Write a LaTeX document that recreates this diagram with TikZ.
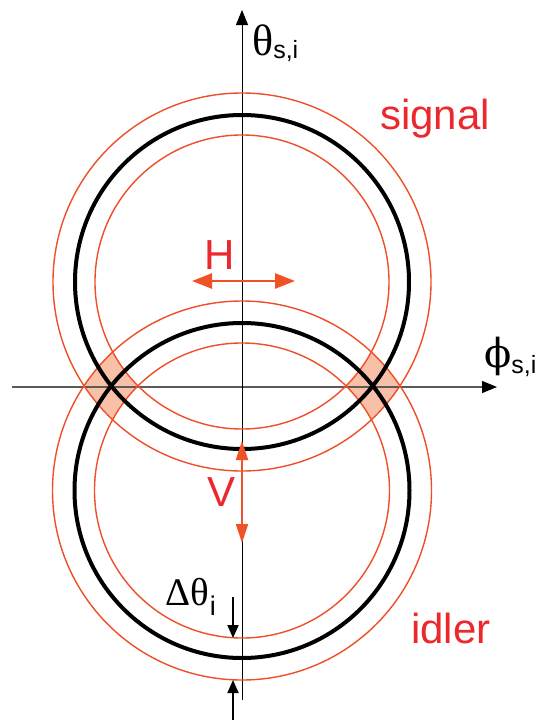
\documentclass[tikz,border=0pt]{standalone}
\usepackage{fontspec}
\setmainfont{Liberation Sans}
\newfontfamily\grk{Liberation Serif}
\newfontfamily\grkb{DejaVu Serif}
\usetikzlibrary{arrows.meta}
\definecolor{txtred}{RGB}{234,40,45}
\definecolor{ringred}{RGB}{238,78,40}
\definecolor{arrred}{RGB}{238,82,38}
\definecolor{patchfill}{RGB}{249,192,168}
\definecolor{axgray}{RGB}{90,90,90}
\tikzset{
  ring/.style={ringred, line width=1.4pt},
  beam/.style={black, line width=4pt},
  lbl/.style={inner sep=0pt, anchor=base west},
  redlbl/.style={inner sep=0pt, text=txtred, font=\fontsize{42}{42}\selectfont},
  pol/.style={arrred, line width=2.6pt},
  dth/.style={black, line width=1.8pt, -{Triangle[length=13pt,width=11pt]}},
}
\begin{document}
\begin{tikzpicture}[x=1pt,y=-1pt]
\useasboundingbox (0,0) rectangle (540,720);
\coordinate (S) at (242,282);
\coordinate (I) at (242,490.5);
% overlap patches
\begin{scope}
  \clip (S) circle (189pt);
  \fill[patchfill, even odd rule] (I) circle (189.5pt) (I) circle (147.5pt);
  \fill[white] (S) circle (147pt);
\end{scope}
% axes
\coordinate (xs) at (12,387);
\coordinate (xe) at (497,387);
\coordinate (ys) at (242,700);
\coordinate (ye) at (242,10);
\draw[axgray, line width=1.3pt, -{Triangle[length=15pt,width=12pt,black]}] (xs) -- (xe);
\draw[black, line width=1pt, -{Triangle[length=15pt,width=12pt]}] (ys) -- (ye);
% rings
\draw[ring] (S) circle (189pt) (S) circle (147pt);
\draw[ring] (I) circle (189.5pt) (I) circle (147.5pt);
\draw[beam] (S) circle (167pt);
\draw[beam] (I) circle (167.5pt);
% H and V arrows
\coordinate (hl) at (192,281);
\coordinate (hr) at (295,281);
\draw[pol, {Triangle[length=20pt,width=15pt]}-{Triangle[length=20pt,width=15pt]}] (hl) -- (hr);
\coordinate (vt) at (242,441);
\coordinate (vb) at (242,543);
\draw[pol, line width=2.2pt, {Triangle[length=19pt,width=12pt]}-{Triangle[length=19pt,width=12pt]}] (vt) -- (vb);
% delta theta arrows
\coordinate (d1s) at (233,597);
\coordinate (d1e) at (233,638);
\coordinate (d2s) at (233,720);
\coordinate (d2e) at (233,680);
\draw[dth] (d1s) -- (d1e);
\draw[dth] (d2s) -- (d2e);
% labels
\node[lbl] (theta) at (252,55) {\fontsize{44}{44}\selectfont\grk θ\raisebox{-3pt}{\fontsize{25}{25}\selectfont\rmfamily s,i}};
\node[lbl] (phi) at (484,367) {\fontsize{40}{40}\selectfont\grkb ϕ\raisebox{-6pt}{\fontsize{25}{25}\selectfont\rmfamily s,i}};
\node[redlbl, anchor=base west] (signal) at (380,129) {signal};
\node[redlbl, anchor=base west] (idler) at (411,643) {idler};
\node[redlbl] (H) at (220,255) {H};
\node[redlbl] (V) at (222,492) {V};
\node[lbl] (dtheta) at (165,605) {\fontsize{39}{39}\selectfont\grk Δθ\kern1pt\raisebox{-10pt}{\fontsize{27}{27}\selectfont\rmfamily i}};
\end{tikzpicture}
\end{document}
